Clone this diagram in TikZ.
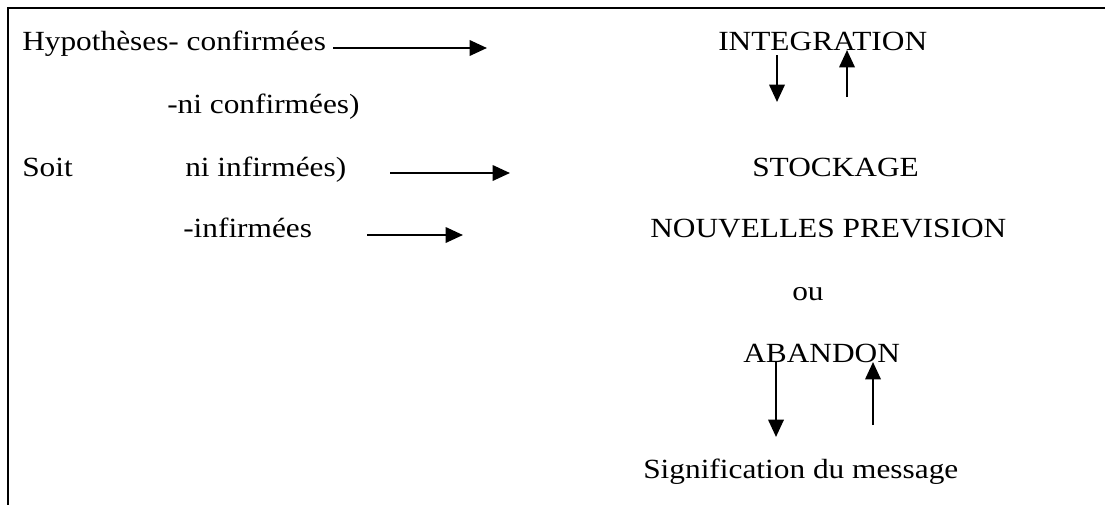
\documentclass[tikz,border=0pt]{standalone}
\usepackage{fontspec}
\setmainfont{Liberation Serif}[FakeStretch=1.13]
\usetikzlibrary{arrows.meta}
\begin{document}
\begin{tikzpicture}[x=0.75pt,y=-0.75pt,
  txt/.style={inner sep=0pt,anchor=base west,font=\fontsize{20.8}{25}\selectfont},
  arr/.style={line width=1.8pt,-{Triangle[length=13pt,width=11.5pt]}},
  frame/.style={line width=2.2pt}]
\useasboundingbox (0,0) rectangle (1105,504);
% frame (top and left edges visible)
\coordinate (f1) at (8,508);
\coordinate (f2) at (8,8);
\coordinate (f3) at (1110,8);
\draw[frame] (f1) -- (f2) -- (f3);
% left column
\node[txt] (h1) at (22,50) {Hypothèses- confirmées};
\node[txt] (h2) at (167,113) {-ni confirmées)};
\node[txt] (h3) at (22,176) {Soit};
\node[txt] (h4) at (185,176) {ni infirmées)};
\node[txt] (h5) at (183,237) {-infirmées};
% right column
\node[txt] (r1) at (718,50) {INTEGRATION};
\node[txt] (r2) at (752,176) {STOCKAGE};
\node[txt] (r3) at (650,237) {NOUVELLES PREVISION};
\node[txt] (r4) at (792,300) {ou};
\node[txt] (r5) at (743,362) {ABANDON};
\node[txt] (r6) at (643,478) {Signification du message};
% horizontal arrows
\coordinate (a1s) at (333,48); \coordinate (a1e) at (487,48);
\coordinate (a2s) at (390,173); \coordinate (a2e) at (510,173);
\coordinate (a3s) at (367,235); \coordinate (a3e) at (463,235);
\draw[arr] (a1s) -- (a1e);
\draw[arr] (a2s) -- (a2e);
\draw[arr] (a3s) -- (a3e);
% vertical arrows near INTEGRATION
\coordinate (v1s) at (777,55); \coordinate (v1e) at (777,102);
\coordinate (v2s) at (847,97); \coordinate (v2e) at (847,50);
\draw[arr] (v1s) -- (v1e);
\draw[arr] (v2s) -- (v2e);
% vertical arrows near ABANDON
\coordinate (v3s) at (776,362); \coordinate (v3e) at (776,437);
\coordinate (v4s) at (873,425); \coordinate (v4e) at (873,362);
\draw[arr] (v3s) -- (v3e);
\draw[arr] (v4s) -- (v4e);
\end{tikzpicture}
\end{document}
